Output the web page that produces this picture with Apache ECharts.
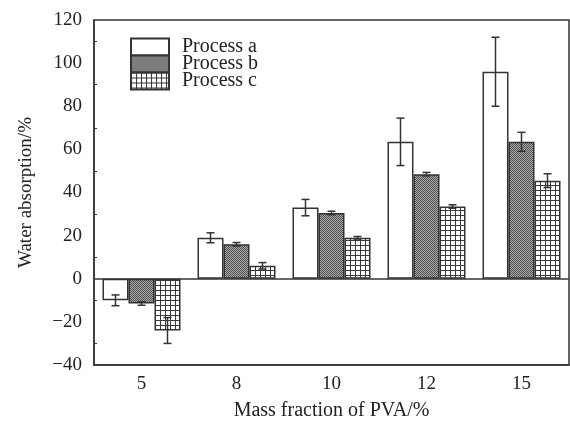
<!DOCTYPE html>
<html>
<head>
    <meta charset="utf-8">
    <title>Water absorption</title>
    <script type="text/javascript" src="https://cdn.jsdelivr.net/npm/echarts@6/dist/echarts.min.js"></script>
</head>
<body style="margin:0;">
<div id="chartmain" style="width:570px; height:430px;"></div>

<script type="text/javascript">
    // 数据
    var categories = ['5', '8', '10', '12', '15'];
    var processA = [-10, 19, 33, 63.5, 96];
    var errA = [2.5, 2.3, 3.8, 11, 16];
    var processB = [-11.5, 16, 30.5, 48.5, 63.5];
    var errB = [0.8, 0.8, 0.8, 0.8, 4.4];
    var processC = [-24, 6, 19, 33.5, 45.5];
    var errC = [6, 1.5, 0.6, 0.8, 3.2];

    var barW = 26;
    var font = '"Liberation Serif", "DejaVu Serif", serif';

    // 斜格填充
    function hatchPattern() {
        var c = document.createElement('canvas');
        c.width = 4; c.height = 4;
        var ctx = c.getContext('2d');
        for (var i = 0; i < 4; i++) {
            for (var j = 0; j < 4; j++) {
                ctx.fillStyle = (i + j) % 2 === 0 ? '#505050' : '#aaaaaa';
                ctx.fillRect(i, j, 1, 1);
            }
        }
        return {image: c, repeat: 'repeat'};
    }
    // 方格填充
    function gridPattern() {
        var c = document.createElement('canvas');
        c.width = 5; c.height = 5;
        var ctx = c.getContext('2d');
        ctx.fillStyle = '#ffffff';
        ctx.fillRect(0, 0, 5, 5);
        ctx.fillStyle = '#3a3a3a';
        ctx.fillRect(0, 0, 5, 1);
        ctx.fillRect(0, 0, 1, 5);
        return {image: c, repeat: 'repeat'};
    }

    function errSeries(vals, errs, k) {
        var data = vals.map(function (v, i) { return [i, v, errs[i]]; });
        return {
            type: 'custom',
            silent: true,
            z: 5,
            data: data,
            renderItem: function (params, api) {
                var i = api.value(0), v = api.value(1), e = api.value(2);
                var top = api.coord([i, v + e]);
                var bot = api.coord([i, v - e]);
                var x = top[0] + (k - 1) * barW;
                var style = {stroke: '#333', lineWidth: 1.5};
                return {
                    type: 'group',
                    children: [
                        {type: 'line', shape: {x1: x, y1: top[1], x2: x, y2: bot[1]}, style: style},
                        {type: 'line', shape: {x1: x - 4, y1: top[1], x2: x + 4, y2: top[1]}, style: style},
                        {type: 'line', shape: {x1: x - 4, y1: bot[1], x2: x + 4, y2: bot[1]}, style: style}
                    ]
                };
            }
        };
    }

    var barBorder = {borderColor: '#333', borderWidth: 1.5};

    var option = {
        animation: false,
        backgroundColor: '#fff',
        textStyle: {fontFamily: font},
        grid: {
            left: 94, top: 20, width: 475, height: 345,
            show: true, borderColor: '#333', borderWidth: 1.5
        },
        legend: {
            data: ['Process a', 'Process b', 'Process c'],
            orient: 'vertical',
            left: 130, top: 37, padding: 0,
            itemWidth: 38, itemHeight: 17, itemGap: -3,
            icon: 'rect',
            textStyle: {fontFamily: font, fontSize: 20, color: '#222', padding: [0, 0, 0, 8]}
        },
        xAxis: {
            type: 'category',
            data: categories,
            name: 'Mass fraction of PVA/%',
            nameLocation: 'middle',
            nameGap: 36,
            nameTextStyle: {fontFamily: font, fontSize: 20, color: '#222'},
            axisLine: {onZero: false, lineStyle: {color: '#333', width: 1.5}},
            axisTick: {inside: true, alignWithLabel: true, length: 5, lineStyle: {color: '#333'}},
            axisLabel: {fontFamily: font, fontSize: 19, color: '#222', margin: 10}
        },
        yAxis: {
            type: 'value',
            min: -40, max: 120, interval: 20,
            name: 'Water absorption/%',
            nameLocation: 'middle',
            nameGap: 58,
            nameTextStyle: {fontFamily: font, fontSize: 19, color: '#222'},
            axisLine: {show: true, lineStyle: {color: '#333', width: 1.5}},
            axisTick: {inside: true, length: 5, lineStyle: {color: '#333'}},
            minorTick: {show: true, splitNumber: 2, length: 3, lineStyle: {color: '#333'}},
            splitLine: {show: false},
            axisLabel: {
                fontFamily: font, fontSize: 19, color: '#222', margin: 12,
                formatter: function (v) { return String(v).replace('-', '\u2212'); }
            }
        },
        series: [
            {
                name: 'Process a', type: 'bar', data: processA,
                barWidth: barW, barGap: '0%',
                itemStyle: Object.assign({color: '#ffffff'}, barBorder),
                markLine: {
                    silent: true, symbol: 'none', label: {show: false},
                    lineStyle: {color: '#333', width: 1.5, type: 'solid'},
                    data: [{yAxis: 0}]
                }
            },
            {
                name: 'Process b', type: 'bar', data: processB,
                barWidth: barW, barGap: '0%',
                itemStyle: Object.assign({color: hatchPattern()}, barBorder)
            },
            {
                name: 'Process c', type: 'bar', data: processC,
                barWidth: barW, barGap: '0%',
                itemStyle: Object.assign({color: gridPattern()}, barBorder)
            },
            errSeries(processA, errA, 0),
            errSeries(processB, errB, 1),
            errSeries(processC, errC, 2)
        ]
    };

    var myChart = echarts.init(document.getElementById('chartmain'));
    myChart.setOption(option);
</script>
</body>
</html>
